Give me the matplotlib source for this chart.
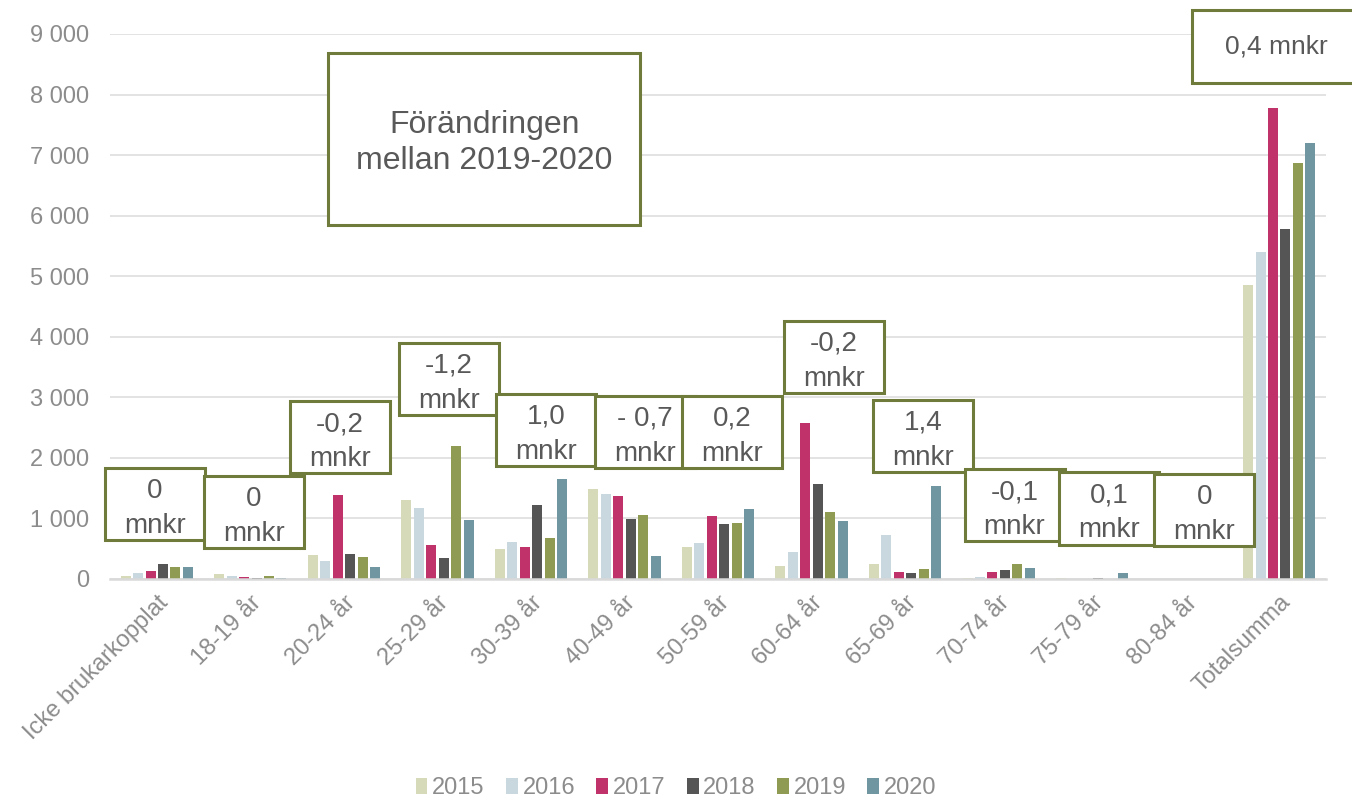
import numpy as np
import matplotlib
matplotlib.use("Agg")
import matplotlib.pyplot as plt
from matplotlib.patches import Rectangle
from matplotlib.ticker import FuncFormatter

plt.rcParams['font.family'] = ['Liberation Sans', 'DejaVu Sans']

# data
categories = ["Icke brukarkopplat", "18-19 år", "20-24 år", "25-29 år", "30-39 år",
              "40-49 år", "50-59 år", "60-64 år", "65-69 år", "70-74 år",
              "75-79 år", "80-84 år", "Totalsumma"]
years = ["2015", "2016", "2017", "2018", "2019", "2020"]
v2015 = [55, 80, 390, 1310, 495, 1490, 530, 220, 250, 15, 10, 5, 4850]
v2016 = [95, 55, 300, 1180, 610, 1400, 595, 445, 720, 35, 0, 0, 5400]
v2017 = [130, 30, 1380, 565, 530, 1375, 1045, 2570, 115, 110, 0, 0, 7780]
v2018 = [245, 20, 410, 350, 1215, 990, 915, 1560, 105, 155, 15, 0, 5785]
v2019 = [200, 45, 360, 2200, 670, 1060, 930, 1110, 165, 245, 0, 5, 6870]
v2020 = [200, 15, 200, 970, 1650, 375, 1160, 960, 1540, 180, 95, 0, 7205]
series = [v2015, v2016, v2017, v2018, v2019, v2020]
colors = ['#d6dab8', '#c8d8de', '#c0336a', '#555555', '#8f9a52', '#7097a1']

# change labels (text, x-center, y-center) in data units
change_text = ["0\nmnkr", "0\nmnkr", "-0,2\nmnkr", "-1,2\nmnkr", "1,0\nmnkr",
               "- 0,7\nmnkr", "0,2\nmnkr", "-0,2\nmnkr", "1,4\nmnkr",
               "-0,1\nmnkr", "0,1\nmnkr", "0\nmnkr"]
change_x = [-0.02, 1.04, 1.96, 3.12, 4.16, 5.22, 6.15, 7.24, 8.19, 9.17, 10.18, 11.20]
change_y = [1238, 1106, 2337, 3303, 2460, 2427, 2427, 3666, 2361, 1214, 1164, 1139]

fig = plt.figure(figsize=(13.52, 8.01), dpi=100)
ax = fig.add_axes([0.0814, 0.2772, 0.8994, 0.6804])

x = np.arange(len(categories))
step = 0.133
for i, (vals, c, yr) in enumerate(zip(series, colors, years)):
    ax.bar(x + (i - 2.5) * step, vals, width=0.107, color=c, label=yr, zorder=2)

ax.set_xlim(-0.5, len(categories) - 0.5)
ax.set_ylim(0, 9000)
ax.set_yticks(np.arange(0, 9001, 1000))
ax.yaxis.set_major_formatter(FuncFormatter(lambda v, p: f"{int(v):,}".replace(",", " ")))
ax.grid(axis='y', color='#e3e3e3', linewidth=1.4, zorder=0)
ax.set_axisbelow(True)
for s in ['top', 'right', 'left']:
    ax.spines[s].set_visible(False)
ax.spines['bottom'].set_color('#d9d9d9')
ax.spines['bottom'].set_linewidth(1.8)
ax.tick_params(axis='both', length=0, labelcolor='#8c8c8c', labelsize=17)
ax.tick_params(axis='y', pad=15)
ax.set_xticks(x)
ax.set_xticklabels(categories, rotation=45, ha='right', rotation_mode='anchor')
ax.tick_params(axis='x', pad=9)

# annotation boxes
edge = '#6f7b3b'
bw, bh = 1.07, 1190
for t, cx, cy in zip(change_text, change_x, change_y):
    ax.add_patch(Rectangle((cx - bw / 2, cy - bh / 2), bw, bh, facecolor='white',
                           edgecolor=edge, linewidth=2.2, zorder=5, clip_on=False))
    ax.text(cx, cy - 70, t, ha='center', va='center', fontsize=20, color='#595959',
            linespacing=1.45, zorder=6)

ax.add_patch(Rectangle((11.97 - 0.9, 8793 - 600), 1.8, 1200, facecolor='white',
                       edgecolor=edge, linewidth=2.2, zorder=5, clip_on=False))
ax.text(11.97, 8793, "0,4 mnkr", ha='center', va='center', fontsize=19,
        color='#595959', zorder=6)

ax.add_patch(Rectangle((3.50 - 1.67, 7266 - 1420), 3.34, 2840, facecolor='white',
                       edgecolor=edge, linewidth=2.2, zorder=5, clip_on=False))
ax.text(3.50, 7200, "Förändringen\nmellan 2019-2020", ha='center', va='center',
        fontsize=23, color='#595959', linespacing=1.3, zorder=6)

fig.legend(loc='lower center', bbox_to_anchor=(0.5, -0.024), ncol=6, frameon=False,
           fontsize=17, labelcolor='#8c8c8c', handlelength=0.5, handleheight=0.65,
           handletextpad=0.2, columnspacing=0.9)

fig.savefig("out.png", dpi=100)
